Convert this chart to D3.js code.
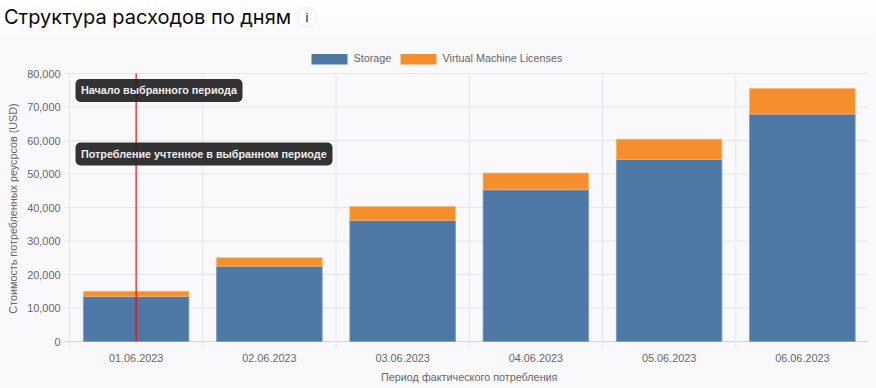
<!DOCTYPE html>
<html>
<head>
<meta charset="utf-8">
<script src="https://cdnjs.cloudflare.com/ajax/libs/d3/7.8.5/d3.min.js"></script>
<style>
html, body { margin: 0; padding: 0; background: #f9f9fc; }
svg { display: block; }
text { font-family: "Liberation Sans", Arial, sans-serif; }
.title { font-family: "Inter", sans-serif; font-size: 20px; fill: #0a0a0a; }
.axis text { font-size: 10.9px; fill: #666; }
.axis-label { font-size: 10.8px; fill: #666; }
.legend-label { font-size: 10.8px; fill: #666; }
.note text { font-size: 10.8px; font-weight: bold; fill: #eee; }
</style>
</head>
<body>
<svg width="876" height="388"></svg>
<script>
const dates = ["01.06.2023", "02.06.2023", "03.06.2023", "04.06.2023", "05.06.2023", "06.06.2023"];
const storage = [13500, 22500, 36200, 45300, 54400, 67900];
const licenses = [1500, 2500, 4100, 5000, 6000, 7600];
const yTicks = [0, 10000, 20000, 30000, 40000, 50000, 60000, 70000, 80000];
const seriesNames = ["Storage", "Virtual Machine Licenses"];
const seriesColors = ["#4e79a7", "#f58f2d"];
const notes = ["Начало выбранного периода", "Потребление учтенное в выбранном периоде"];

const w = 876, h = 388;
const plotL = 69.5, plotR = 869, plotT = 73.5, plotB = 341.5;

const svg = d3.select("svg");

const xScale = d3.scaleBand().domain(dates).range([plotL, plotR]).paddingInner(0).paddingOuter(0);
const yScale = d3.scaleLinear().domain([0, 80000]).range([plotB, plotT]);
const barInset = xScale.bandwidth() * 0.1;

// title
const fade = svg.append("defs").append("linearGradient").attr("id", "fade")
    .attr("x1", 0).attr("x2", 0).attr("y1", 0).attr("y2", 1);
fade.append("stop").attr("offset", 0).attr("stop-color", "#fff");
fade.append("stop").attr("offset", 1).attr("stop-color", "#f9f9fc");
svg.append("rect").attr("width", w).attr("height", 40).attr("fill", "url(#fade)");
svg.append("text").attr("class", "title").attr("x", 4).attr("y", 24).text("Структура расходов по дням");
svg.append("circle").attr("cx", 307).attr("cy", 17).attr("r", 9.5)
    .attr("fill", "#fff").attr("stroke", "#ececf0");
svg.append("text").attr("x", 307).attr("y", 21.5).attr("text-anchor", "middle")
    .attr("font-size", 12).attr("font-weight", "bold").attr("fill", "#2b5fa8").text("i");

// grid
const gridColor = "#e6e6ea";
svg.append("g").selectAll("line").data(yTicks).join("line")
    .attr("x1", plotL - 5).attr("x2", plotR - 1)
    .attr("y1", d => yScale(d)).attr("y2", d => yScale(d))
    .attr("stroke", d => d === 0 ? "#d4d4d8" : gridColor);
svg.append("g").selectAll("line").data(dates).join("line")
    .attr("x1", d => xScale(d))
    .attr("x2", d => xScale(d))
    .attr("y1", plotT).attr("y2", plotB + 7)
    .attr("stroke", gridColor);

// axes
const yAxis = d3.axisLeft(yScale).tickValues(yTicks).tickFormat(d3.format(",")).tickSize(0).tickPadding(9);
const yG = svg.append("g").attr("class", "axis").attr("transform", `translate(${plotL},0)`).call(yAxis);
yG.select(".domain").remove();

const xAxis = d3.axisBottom(xScale).tickSize(0).tickPadding(13);
const xG = svg.append("g").attr("class", "axis").attr("transform", `translate(0,${plotB})`).call(xAxis);
xG.select(".domain").remove();

svg.append("text").attr("class", "axis-label").attr("text-anchor", "middle")
    .attr("x", (plotL + plotR) / 2).attr("y", 381).text("Период фактического потребления");
svg.append("text").attr("class", "axis-label").attr("text-anchor", "middle")
    .attr("transform", `translate(17,${(plotT + plotB) / 2 + 1}) rotate(-90)`)
    .text("Стоимость потребленных реусрсов (USD)");

// bars
const stacked = d3.stack().keys([0, 1]).value((d, k) => d[k])(dates.map((d, i) => [storage[i], licenses[i]]));
svg.append("g").selectAll("g").data(stacked).join("g")
    .attr("fill", (d, i) => seriesColors[i])
    .attr("stroke", (d, i) => i === 0 ? "#7f9fc0" : "#f9b877")
    .attr("stroke-width", 0.8)
    .selectAll("rect").data(d => d).join("rect")
    .attr("x", (d, i) => xScale(dates[i]) + barInset + 0.5)
    .attr("width", xScale.bandwidth() - barInset * 2 - 1)
    .attr("y", d => yScale(d[1]))
    .attr("height", d => yScale(d[0]) - yScale(d[1]));

// legend
const legend = svg.append("g");
const legendX = [311.5, 400.5];
seriesNames.forEach((name, i) => {
    legend.append("rect").attr("x", legendX[i]).attr("y", 54).attr("width", 36).attr("height", 10.5)
        .attr("fill", seriesColors[i]);
    legend.append("text").attr("class", "legend-label").attr("x", legendX[i] + 42).attr("y", 62).text(name);
});

// selected period marker
const markerX = xScale(dates[0]) + xScale.bandwidth() / 2;
svg.append("line").attr("x1", markerX).attr("x2", markerX).attr("y1", plotT).attr("y2", plotB)
    .attr("stroke", "#f00").attr("stroke-width", 1.2);

const noteBoxes = [{y: 90.5, w: 167}, {y: 154, w: 257}];
notes.forEach((t, i) => {
    const g = svg.append("g").attr("class", "note");
    g.append("rect").attr("x", 75.5).attr("y", noteBoxes[i].y - 11.5)
        .attr("width", noteBoxes[i].w).attr("height", 23).attr("rx", 5)
        .attr("fill", "#222").attr("fill-opacity", 0.92);
    g.append("text").attr("x", 81).attr("y", noteBoxes[i].y + 3.5).text(t);
});
</script>
</body>
</html>
